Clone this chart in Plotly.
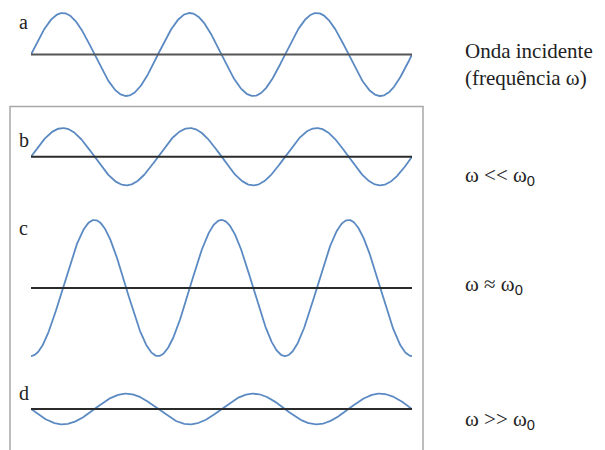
import numpy as np
import plotly.graph_objects as go

# ---- data ----
panel_letters = ["a", "b", "c", "d"]
amplitudes = [1.0, 0.69, 1.64, 0.37]      # relative to incident wave
phases_deg = [0, 0, -90, 180]             # phase of each wave
n_periods = 3
SUB0 = "<sub><span style='font-family:Liberation Sans, Arial, sans-serif'>0</span></sub>"
right_labels = ["Onda incidente<br>(frequência ω)",
                "ω &lt;&lt; ω" + SUB0,
                "ω ≈ ω" + SUB0,
                "ω &gt;&gt; ω" + SUB0]

# ---- layout geometry (pixels) ----
W, H = 605, 450
x0_px, x1_px = 31, 412
baselines_px = [54.5, 156.7, 288, 409]
unit_px = 41.5          # pixels per amplitude unit
half_px = 80
SERIF = "'Liberation Serif', 'Times New Roman', 'DejaVu Serif', serif"

t = np.linspace(0, n_periods, 600)

fig = go.Figure()
layout = dict(width=W, height=H, margin=dict(l=0, r=0, t=0, b=0),
              paper_bgcolor="white", plot_bgcolor="rgba(0,0,0,0)",
              showlegend=False, font=dict(family=SERIF, color="#222222"))

xdom = [x0_px / W, x1_px / W]
layout["xaxis"] = dict(domain=xdom, range=[0, n_periods], visible=False, fixedrange=True)

baseline_colors = ["#555555", "#2b2b2b", "#2b2b2b", "#2b2b2b"]
for i, (amp, ph) in enumerate(zip(amplitudes, phases_deg)):
    yname = "y" if i == 0 else f"y{i+1}"
    axname = "yaxis" if i == 0 else f"yaxis{i+1}"
    c = baselines_px[i]
    d0 = 1 - (c + half_px) / H
    d1 = 1 - (c - half_px) / H
    r = half_px / unit_px
    lo, hi = -r, r
    if d0 < 0:
        lo = -r + (-d0) * H / unit_px
        d0 = 0
    if d1 > 1:
        hi = r - (d1 - 1) * H / unit_px
        d1 = 1
    layout[axname] = dict(domain=[d0, d1], range=[lo, hi], visible=False, fixedrange=True)
    y = amp * np.sin(2 * np.pi * t + np.deg2rad(ph))
    fig.add_trace(go.Scatter(x=t, y=y, mode="lines", xaxis="x", yaxis=yname,
                             line=dict(color="#5b8ac3", width=1.8), hoverinfo="skip"))
    fig.add_trace(go.Scatter(x=[0, n_periods], y=[0, 0], mode="lines", xaxis="x", yaxis=yname,
                             line=dict(color=baseline_colors[i], width=2), hoverinfo="skip"))

fig.update_layout(**layout)

# frame box around b-d
fig.add_shape(type="rect", xref="paper", yref="paper",
              x0=10 / W, x1=423 / W, y0=-0.05, y1=1 - 106.5 / H,
              line=dict(color="#a8a8a8", width=1.5), fillcolor="rgba(0,0,0,0)")

letter_y_px = [22, 140, 228, 393]
for L, yp in zip(panel_letters, letter_y_px):
    fig.add_annotation(text=L, xref="paper", yref="paper", x=17 / W, y=1 - yp / H,
                       xanchor="left", yanchor="middle", showarrow=False,
                       font=dict(family=SERIF, size=20, color="#222222"))

label_y_px = [65, 176, 285, 420]
label_sizes = [21, 21, 21, 21]
for lab, yp, fs in zip(right_labels, label_y_px, label_sizes):
    fig.add_annotation(text=lab, xref="paper", yref="paper", x=463 / W, y=1 - yp / H,
                       xanchor="left", yanchor="middle", align="left", showarrow=False,
                       font=dict(family=SERIF, size=fs, color="#222222"))

fig.write_html("out.html")
